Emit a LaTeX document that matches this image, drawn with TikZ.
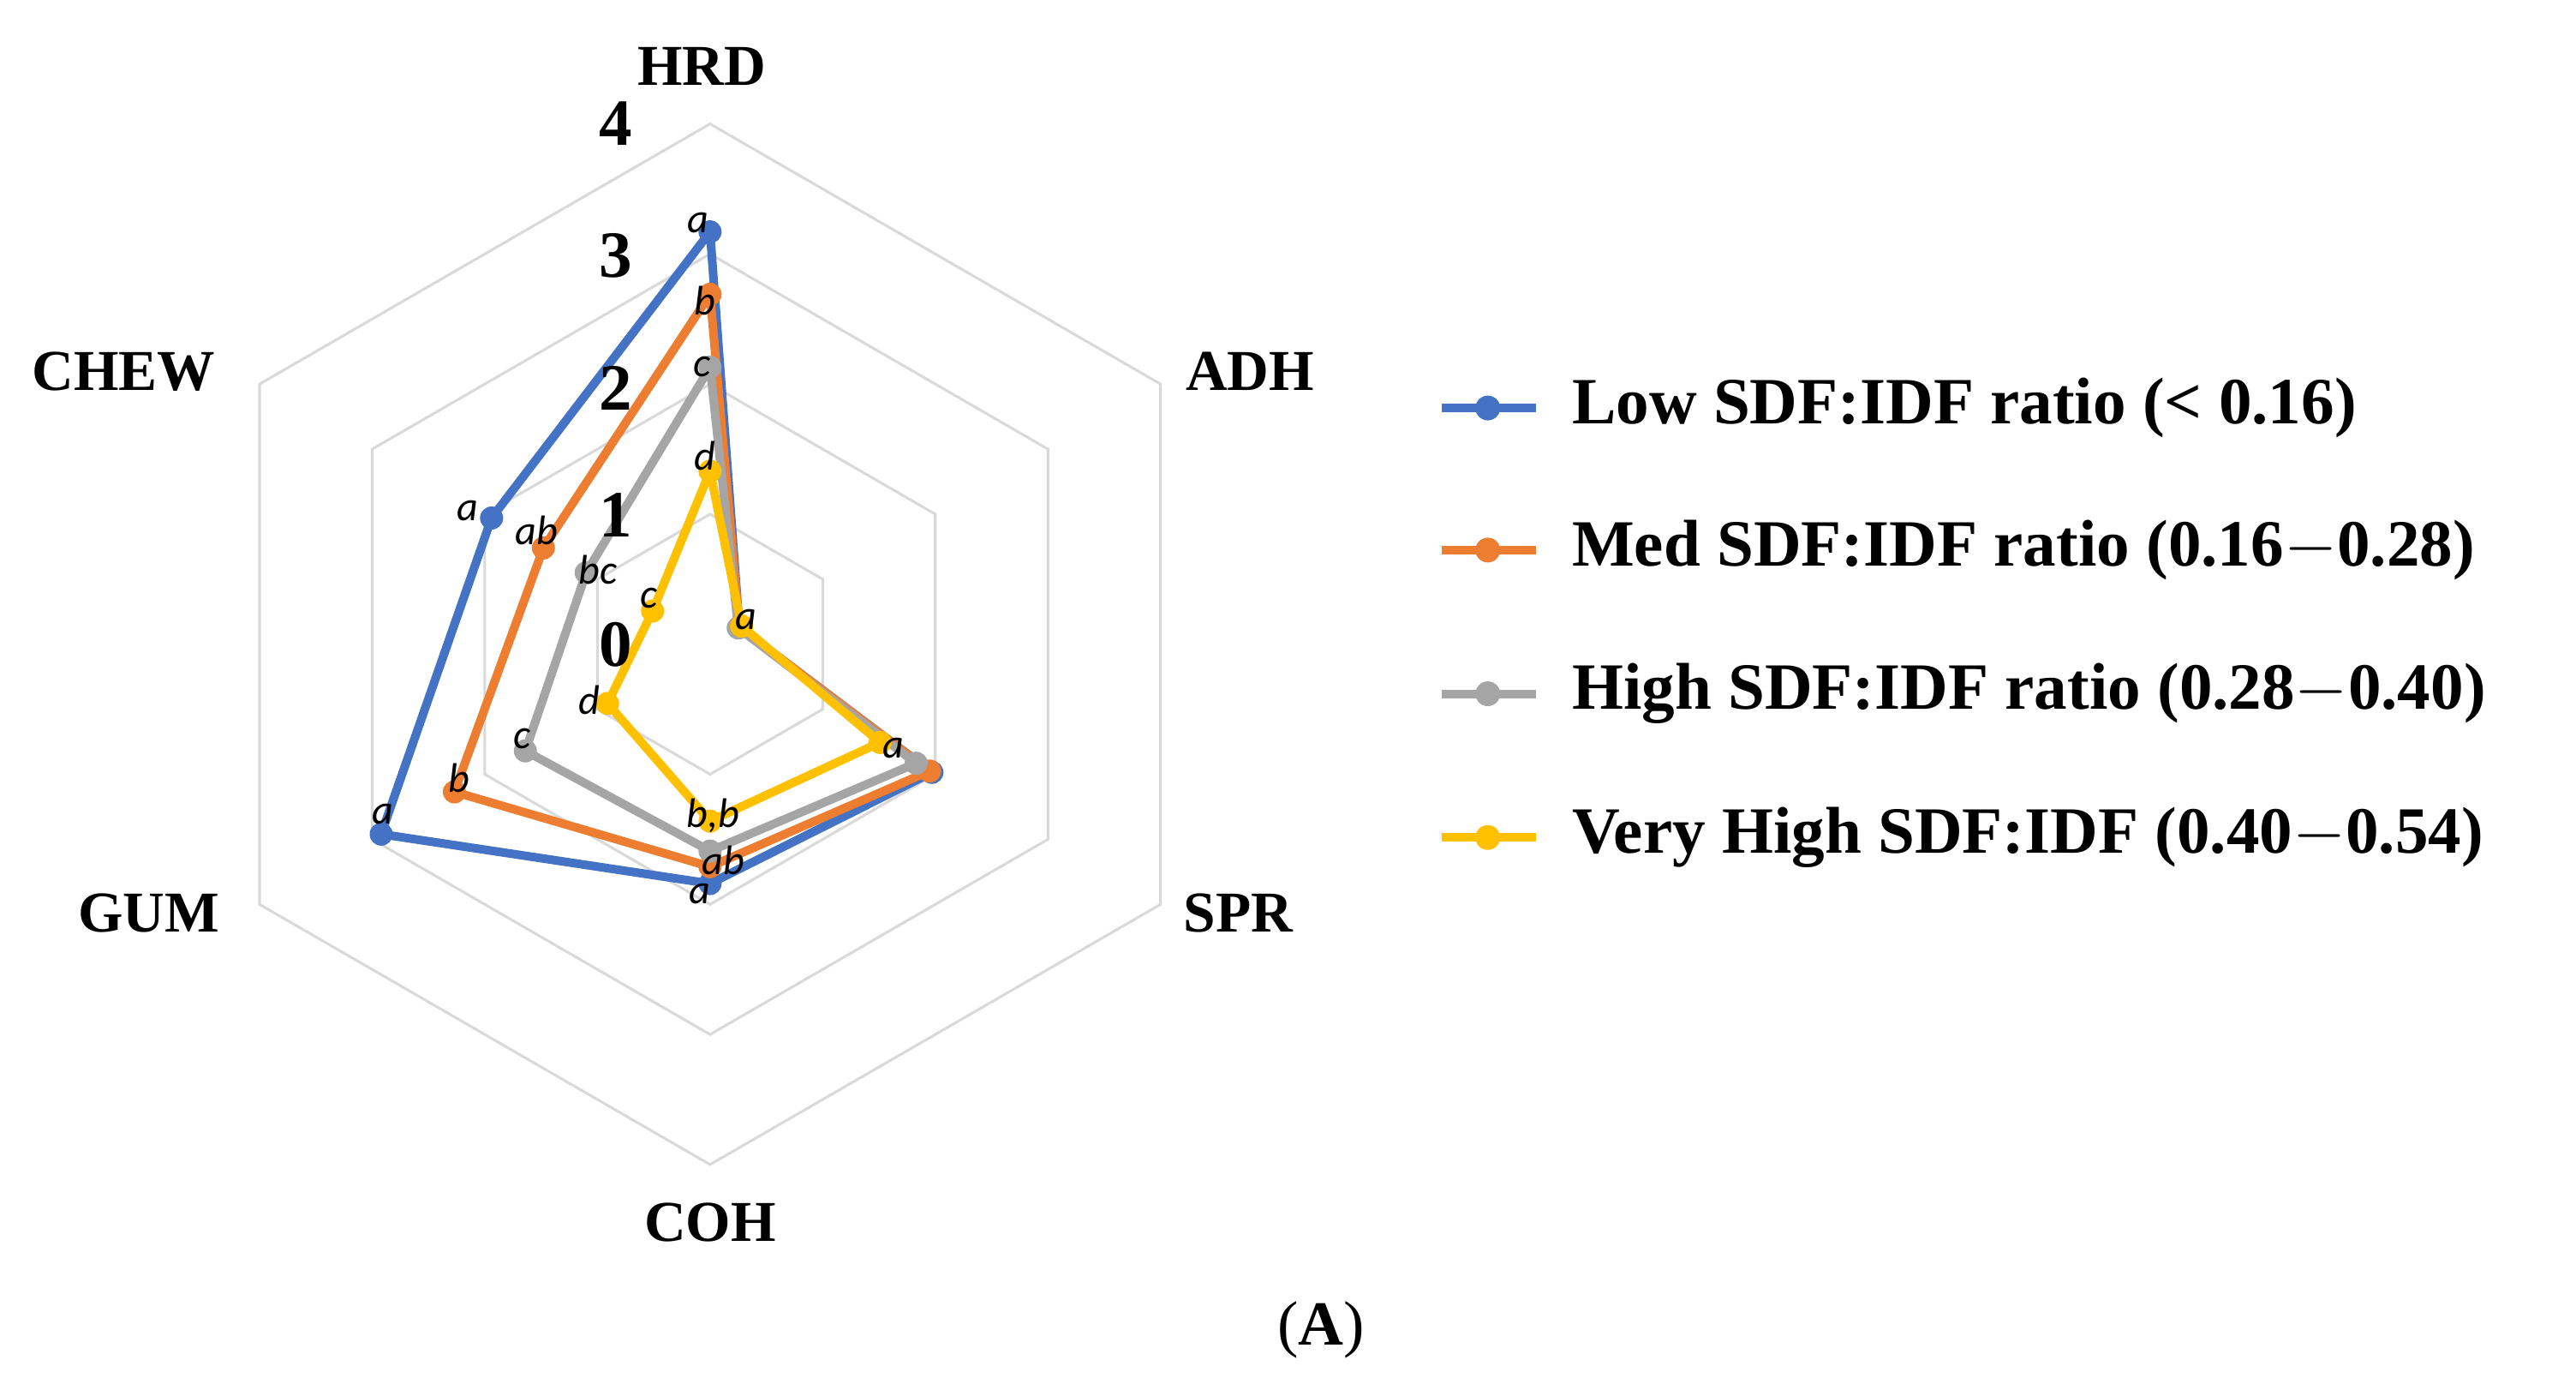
\documentclass[tikz,border=0pt]{standalone}
\usepackage{fontspec}
\setmainfont{Liberation Serif}
\newfontfamily\carfont{Carlito}
\begin{document}
\begin{tikzpicture}[x=0.5pt,y=-0.5pt,
 grid/.style={draw=black!15,line width=0.8pt},
 ser/.style={line width=2.6pt,line join=round},
 ax/.style={font=\bfseries\fontsize{17.5}{17.5}\selectfont},
 tk/.style={font=\bfseries\fontsize{20}{20}\selectfont},
 lt/.style={font=\carfont\itshape\fontsize{12.5}{12.5}\selectfont,inner sep=0pt},
 lg/.style={font=\bfseries\fontsize{20}{20}\selectfont,anchor=west}]
\useasboundingbox (0,0) rectangle (1560,845);
\definecolor{cb}{HTML}{4472C4}\definecolor{co}{HTML}{ED7D31}
\definecolor{cg}{HTML}{A5A5A5}\definecolor{cy}{HTML}{FFC000}
\begin{scope}[shift={(430,390)}]
\coordinate (c) at (0,0);
\foreach \r in {78.75,157.5,236.25,315}
 \draw[grid] (-90:\r)--(-30:\r)--(30:\r)--(90:\r)--(150:\r)--(210:\r)--cycle;
\foreach \col/\v in {cb/{3.17,0.26,1.97,1.84,2.92,1.94},co/{2.69,0.26,1.95,1.71,2.27,1.48},cg/{2.13,0.25,1.83,1.59,1.64,1.10},cy/{1.33,0.28,1.51,1.36,0.91,0.51}}{
 \foreach [count=\i] \x in \v {\pgfmathsetmacro\ang{-150+60*\i}\pgfmathsetmacro\rr{\x*78.75}
  \coordinate (\col\i) at (\ang:\rr);}
 \draw[ser,\col] (\col1)--(\col2)--(\col3)--(\col4)--(\col5)--(\col6)--cycle;
 \foreach \i in {1,...,6} \fill[\col] (\col\i) circle (7);
}
\end{scope}
\node[ax] (hrd) at (425,40) {HRD};
\node[ax] (adh) at (757,225) {ADH};
\node[ax] (spr) at (750,553) {SPR};
\node[ax] (coh) at (430,740) {COH};
\node[ax] (gum) at (90,553) {GUM};
\node[ax] (chew) at (75,225) {CHEW};
\foreach \t/\yy in {4/75,3/155,2/235,1/312,0/390} \node[tk] (t\t) at (373,\yy) {\t};
\foreach \n/\xx/\yy/\s in {l1/423/135/a,l2/427/182/b,l3/425/222/c,l4/427/276/d,l5/452/375/a,l6/541/453/a,
 l7/432/494/{b,b},l8/438/521/ab,l9/424/541/a,l10/232/493/a,l11/278/471/b,l12/316/447/c,l13/357/424/d,
 l14/283/309/a,l15/325/321/ab,l16/362/345/bc,l17/393/362/c}
 \node[lt] (\n) at (\xx,\yy) {\s};
\foreach \col/\yy/\txt/\k in {cb/247/{Low SDF:IDF ratio (< 0.16)}/1,co/333/{Med SDF:IDF ratio (0.16$-$0.28)}/2,cg/420/{High SDF:IDF ratio (0.28$-$0.40)}/3,cy/507/{Very High SDF:IDF (0.40$-$0.54)}/4}{
 \coordinate (a\k) at (873,\yy); \coordinate (b\k) at (930,\yy);
 \draw[ser,\col] (a\k)--(b\k); \fill[\col] (901,\yy) circle (7.5);
 \node[lg] (g\k) at (945,\yy) {\txt};}
\node[font=\fontsize{19}{19}\selectfont] (cap) at (800,805) {(\textbf{A})};
\end{tikzpicture}
\end{document}
